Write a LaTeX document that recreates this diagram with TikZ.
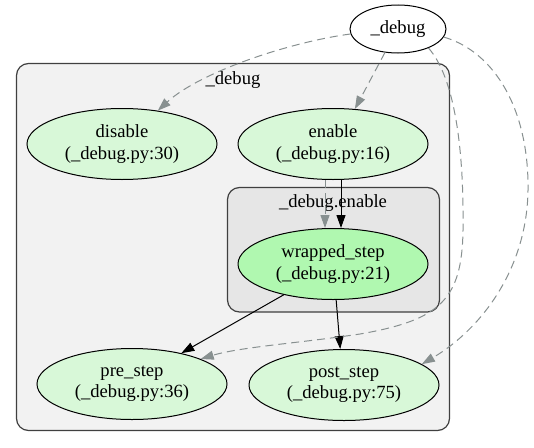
\documentclass[tikz,border=0pt]{standalone}
\usepackage{fontspec}
\setmainfont{Liberation Serif}
\usetikzlibrary{shapes.geometric,arrows.meta}
\definecolor{lgreen}{HTML}{D8F8D8}
\definecolor{mgreen}{HTML}{B0F8B0}
\definecolor{clA}{HTML}{F2F2F2}
\definecolor{clB}{HTML}{E6E6E6}
\definecolor{edgegray}{HTML}{889090}
\tikzset{
  fnode/.style={ellipse,draw=black,line width=1pt,inner sep=0pt,minimum width=190pt,minimum height=71pt,align=center,font=\fontsize{18.6}{21.5}\selectfont},
  cluster/.style={draw=black!75,line width=1.2pt,rounded corners=12pt},
  clabel/.style={font=\fontsize{18.6}{21}\selectfont,inner sep=0pt},
  solidedge/.style={draw=black,line width=1pt,-{Triangle[length=13pt,width=9pt]}},
  dashedge/.style={draw=edgegray,line width=1pt,dash pattern=on 8pt off 5pt,-{Triangle[length=13pt,width=9pt,fill=edgegray]}},
}
\begin{document}
\begin{tikzpicture}[x=1pt,y=-1pt]
\useasboundingbox (0,0) rectangle (534,447);
% clusters
\draw[cluster,fill=clA] (16.5,63.5) rectangle (449.5,430.5);
\node[clabel] (outerlabel) at (233,80) {\_debug};
\draw[cluster,fill=clB] (227.5,187.5) rectangle (439.5,312);
\node[clabel] (innerlabel) at (333,203) {\_debug.enable};
% nodes
\node[ellipse,draw=black,line width=1pt,inner sep=0pt,minimum width=96pt,minimum height=48pt,fill=white,font=\fontsize{18.6}{21}\selectfont] (top) at (398,29) {\_debug};
\node[fnode,fill=lgreen] (disable) at (122,144) {disable\\(\_debug.py:30)};
\node[fnode,fill=lgreen] (enable) at (333,144) {enable\\(\_debug.py:16)};
\node[fnode,fill=mgreen] (wrapped) at (333,264) {wrapped\_step\\(\_debug.py:21)};
\node[fnode,fill=lgreen] (pre) at (132,384) {pre\_step\\(\_debug.py:36)};
\node[fnode,fill=lgreen] (post) at (344,385) {post\_step\\(\_debug.py:75)};
% edges
\draw[dashedge] (top.186) .. controls (290,42) and (200,72) .. (disable.43);
\draw[dashedge] (top.-119) -- (enable.58);
\draw[dashedge] ([xshift=-8pt]enable.south) -- ([xshift=-8pt]wrapped.north);
\draw[solidedge] ([xshift=8pt]enable.south) -- ([xshift=8pt]wrapped.north);
\draw[solidedge] (wrapped.-148) -- (pre.32);
\draw[solidedge] (wrapped.-85) -- (post.96);
\draw[dashedge] (top.-32) .. controls (455,78) and (464,150) .. (463,230)
  .. controls (462,300) and (440,320) .. (360,334)
  .. controls (300,343) and (240,347) .. (pre.20);
\draw[dashedge] (top.-10) .. controls (495,52) and (529,110) .. (528,190)
  .. controls (527,270) and (480,330) .. (post.15);
\end{tikzpicture}
\end{document}
